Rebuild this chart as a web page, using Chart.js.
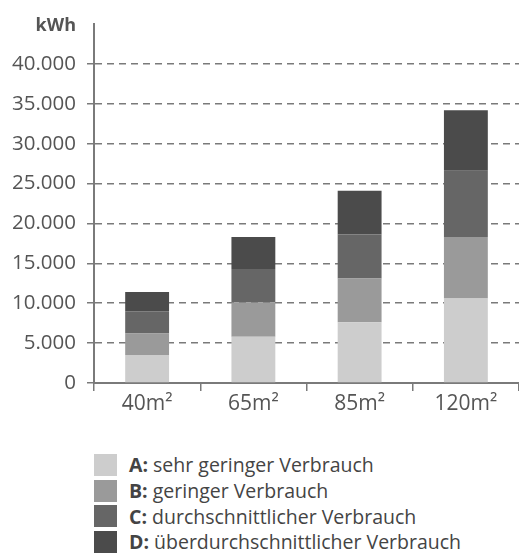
<!DOCTYPE html>
<html>
<head>
<meta charset="utf-8">
<script src="https://cdn.jsdelivr.net/npm/chart.js@4"></script>
<style>
    body { margin: 0; background: #fff; font-family: "Open Sans", sans-serif; }
    #wrap { position: absolute; left: 0; top: 0; width: 519px; height: 430px; }
    #legend { position: absolute; left: 94px; top: 452px; }
    .row { display: flex; align-items: center; height: 25.7px; color: #444; font-size: 19.5px; white-space: nowrap; }
    .box { width: 23px; height: 22px; margin-right: 12px; }
</style>
</head>
<body>
<div id="wrap"><canvas id="chart"></canvas></div>
<div id="legend"></div>
<script>
// Chart data
const categories = ['40m²', '65m²', '85m²', '120m²'];
const seriesKeys = ['A', 'B', 'C', 'D'];
const seriesNames = ['sehr geringer Verbrauch', 'geringer Verbrauch', 'durchschnittlicher Verbrauch', 'überdurchschnittlicher Verbrauch'];
const seriesA = [3500, 5800, 7600, 10600];
const seriesB = [2700, 4300, 5500, 7700];
const seriesC = [2800, 4200, 5500, 8300];
const seriesD = [2400, 4000, 5500, 7600];
const yTicks = [0, 5000, 10000, 15000, 20000, 25000, 30000, 35000, 40000];
const unitLabel = 'kWh';

const colors = ['#cdcdcd', '#9a9a9a', '#666666', '#4b4b4b'];
const allSeries = [seriesA, seriesB, seriesC, seriesD];

// German thousands separator
function fmt(v) {
    return String(v).replace(/\B(?=(\d{3})+(?!\d))/g, '.');
}

// Build the legend as html (bold key letter)
const legendEl = document.getElementById('legend');
seriesKeys.forEach((key, i) => {
    const row = document.createElement('div');
    row.className = 'row';
    row.innerHTML = '<div class="box" style="background:' + colors[i] + '"></div><b>' + key + ':</b>&nbsp;' + seriesNames[i];
    legendEl.appendChild(row);
});

// Unit label above the y axis
const unitPlugin = {
    id: 'unitLabel',
    afterDraw(chart) {
        const ctx = chart.ctx;
        const y = chart.scales.y;
        ctx.save();
        ctx.font = 'bold 18px "Open Sans"';
        ctx.fillStyle = '#555';
        ctx.textAlign = 'right';
        ctx.textBaseline = 'middle';
        ctx.fillText(unitLabel, y.right - 18, 26);
        ctx.restore();
    }
};

new Chart(document.getElementById('chart'), {
    type: 'bar',
    data: {
        labels: categories,
        datasets: allSeries.map((data, i) => ({
            label: seriesKeys[i] + ': ' + seriesNames[i],
            data: data,
            backgroundColor: colors[i],
            borderWidth: 0,
            categoryPercentage: 1,
            barPercentage: 0.413
        }))
    },
    options: {
        responsive: true,
        maintainAspectRatio: false,
        animation: false,
        layout: { padding: { top: 24, right: 0, left: 0, bottom: 0 } },
        plugins: { legend: { display: false }, tooltip: { enabled: false } },
        scales: {
            x: {
                stacked: true,
                afterFit: function(scale) { scale.height = 47; },
                grid: { drawOnChartArea: false, drawTicks: true, tickLength: 8, color: '#7a7a7a', lineWidth: 1.5 },
                border: { display: true, color: '#7a7a7a', width: 2 },
                ticks: { color: '#555', padding: 0, font: { family: 'Open Sans', size: 21 } }
            },
            y: {
                stacked: true,
                min: 0,
                max: 45000,
                afterFit: function(scale) { scale.width = 94; },
                afterBuildTicks: function(scale) {
                    scale.ticks = yTicks.map(v => ({ value: v }));
                },
                grid: {
                    tickLength: 7,
                    lineWidth: 1.5,
                    color: '#7a7a7a',
                    tickColor: '#7a7a7a'
                },
                border: { display: true, color: '#7a7a7a', width: 2, dash: [7, 5] },
                ticks: {
                    color: '#555',
                    padding: 11,
                    font: { family: 'Open Sans', size: 20.5 },
                    callback: function(value) { return fmt(value); }
                }
            }
        }
    },
    plugins: [unitPlugin]
});
</script>
</body>
</html>
